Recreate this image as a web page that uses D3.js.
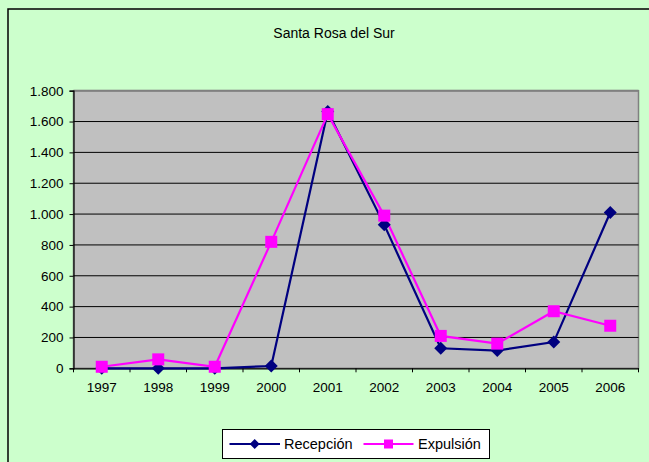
<!DOCTYPE html>
<html><head><meta charset="utf-8">
<script src="https://cdn.jsdelivr.net/npm/d3@7"></script>
<style>body{margin:0;background:#ccffcc;}svg{display:block;}</style>
</head><body>
<script>
const years = ["1997","1998","1999","2000","2001","2002","2003","2004","2005","2006"];
const recepcion = [0, 0, 0, 15, 1665, 930, 130, 115, 170, 1010];
const expulsion = [10, 58, 10, 820, 1648, 990, 210, 160, 370, 276];
const yTicks = [0, 200, 400, 600, 800, 1000, 1200, 1400, 1600, 1800];
const title = "Santa Rosa del Sur";
const seriesNames = ["Recepción", "Expulsión"];

const W = 649, H = 462;
const FONT = "Liberation Sans, Arial, sans-serif";
const svg = d3.select("body").append("svg").attr("width", W).attr("height", H);
svg.append("rect").attr("width", W).attr("height", H).attr("fill", "#ccffcc");
svg.append("rect").attr("x", 8).attr("y", 9).attr("width", W + 10).attr("height", H + 10)
  .attr("fill", "none").attr("stroke", "#000").attr("stroke-width", 1.5);

const L = 73.5, R = 638.5, T = 90.7, B = 368.3;
const x = d3.scaleBand().domain(years).range([L, R]);
const y = d3.scaleLinear().domain([0, 1800]).range([B, T]);
const fmt = d => d3.format(",")(d).replace(/,/g, ".");

svg.append("rect").attr("x", L).attr("y", T).attr("width", R - L).attr("height", B - T)
  .attr("fill", "#c0c0c0").attr("stroke", "#808080").attr("stroke-width", 1.5);

svg.append("g").selectAll("line").data(yTicks.filter(d => d > 0)).join("line")
  .attr("x1", L).attr("x2", R).attr("y1", d => y(d)).attr("y2", d => y(d))
  .attr("stroke", d => d === 1800 ? "#808080" : "#000").attr("stroke-width", d => d === 1800 ? 2 : 1);

const ya = svg.append("g").attr("transform", `translate(${L},0)`)
  .call(d3.axisLeft(y).tickValues(yTicks).tickFormat(fmt).tickSize(4).tickPadding(6));
const xa = svg.append("g").attr("transform", `translate(0,${B})`)
  .call(d3.axisBottom(x).tickSize(0).tickPadding(14));
[ya, xa].forEach(g => {
  g.select(".domain").attr("stroke", "#000").attr("stroke-width", 1.2);
  g.selectAll("text").attr("font-family", FONT).attr("font-size", 13.5).attr("fill", "#000");
  g.selectAll("line").attr("stroke", "#000");
});
svg.append("g").selectAll("line").data(years.concat(["end"])).join("line")
  .attr("x1", (d, i) => L + i * x.bandwidth()).attr("x2", (d, i) => L + i * x.bandwidth())
  .attr("y1", B).attr("y2", B + 4).attr("stroke", "#000");

const cx = d => x(d) + x.bandwidth() / 2;
const line = d3.line().x((d, i) => cx(years[i])).y(d => y(d));

svg.append("path").datum(recepcion).attr("d", line).attr("fill", "none")
  .attr("stroke", "#000080").attr("stroke-width", 2.2);
svg.append("path").datum(expulsion).attr("d", line).attr("fill", "none")
  .attr("stroke", "#ff00ff").attr("stroke-width", 2.2);

function diamondPath(s){ return `M0,${-s}L${s},0L0,${s}L${-s},0Z`; }
svg.append("g").selectAll("path").data(recepcion).join("path")
  .attr("d", diamondPath(6.5))
  .attr("transform", (d, i) => `translate(${cx(years[i])},${y(d)})`).attr("fill", "#000080");
svg.append("g").selectAll("rect").data(expulsion).join("rect")
  .attr("x", (d, i) => cx(years[i]) - 6).attr("y", d => y(d) - 6)
  .attr("width", 12).attr("height", 12).attr("fill", "#ff00ff");

svg.append("text").attr("x", 334).attr("y", 38).attr("text-anchor", "middle")
  .attr("font-family", FONT).attr("font-size", 14)
  .attr("fill", "#000").text(title);

const lg = svg.append("g");
lg.append("rect").attr("x", 222.5).attr("y", 429.5).attr("width", 267).attr("height", 29)
  .attr("fill", "#fff").attr("stroke", "#000").attr("stroke-width", 1);
const ly = 444;
lg.append("line").attr("x1", 229.5).attr("x2", 280).attr("y1", ly).attr("y2", ly).attr("stroke", "#000080").attr("stroke-width", 2);
lg.append("path").attr("d", diamondPath(5)).attr("transform", `translate(254.7,${ly})`).attr("fill", "#000080");
lg.append("text").attr("x", 284).attr("y", ly + 5).attr("font-family", FONT)
  .attr("font-size", 14.5).attr("fill", "#000").text(seriesNames[0]);
lg.append("line").attr("x1", 363.5).attr("x2", 413.5).attr("y1", ly).attr("y2", ly).attr("stroke", "#ff00ff").attr("stroke-width", 2);
lg.append("rect").attr("x", 384).attr("y", ly - 4.5).attr("width", 9).attr("height", 9).attr("fill", "#ff00ff");
lg.append("text").attr("x", 418).attr("y", ly + 5).attr("font-family", FONT)
  .attr("font-size", 14.5).attr("fill", "#000").text(seriesNames[1]);
</script>
</body></html>
